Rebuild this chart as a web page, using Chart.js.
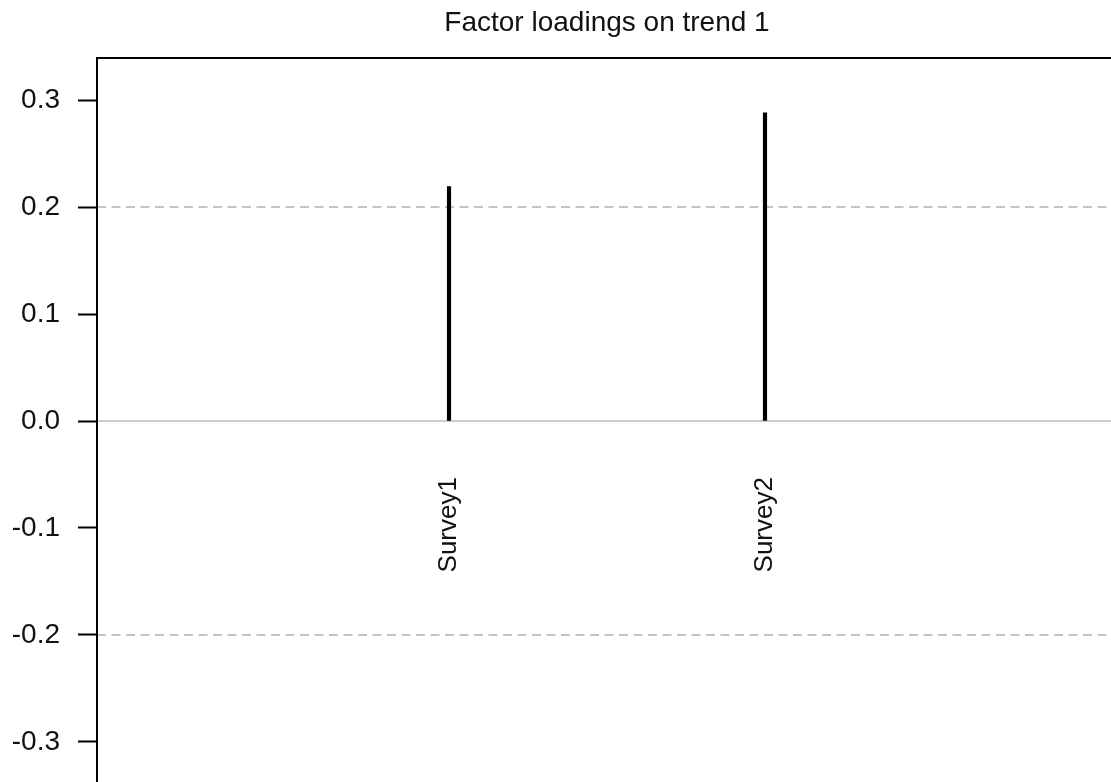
<!DOCTYPE html>
<html>
<head>
<meta charset="utf-8">
<title>Factor loadings on trend 1</title>
<script src="https://cdn.jsdelivr.net/npm/chart.js"></script>
<style>
  html, body { margin: 0; padding: 0; background: #fff; overflow: hidden; }
  .container_grafico { width: 1111px; height: 782px; overflow: hidden; position: relative; }
  #graficoCargas { position: absolute; left: 0; top: 0; }
</style>
</head>
<body>
<div class="container_grafico">
  <canvas id="graficoCargas" width="1120" height="786"></canvas>
</div>
<script>
const surveys = ['Survey1', 'Survey2'];
const loadings = [0.219, 0.288];
const yTicks = [-0.3, -0.2, -0.1, 0.0, 0.1, 0.2, 0.3];
const dashedLevels = [-0.2, 0.2];
const zeroLevel = 0;

const xMin = -0.114, xMax = 3.114;
const yMin = -0.3393, yMax = 0.3393;
const fonte = "'Liberation Sans', Arial, sans-serif";

// each survey sits at x = 1, 2, ...
const barPoints = loadings.map((v, i) => ({ x: i + 1, y: v }));

function linhaHorizontal(level, dash, color, width) {
    return {
        type: 'line',
        data: [{ x: xMin, y: level }, { x: xMax, y: level }],
        borderColor: color,
        borderWidth: width,
        borderDash: dash,
        pointRadius: 0,
        order: 1
    };
}

// survey names written vertically under the zero line
const rotulosSurvey = {
    id: 'rotulosSurvey',
    afterDatasetsDraw(chart) {
        const ctx = chart.ctx;
        const x = chart.scales.x, y = chart.scales.y;
        ctx.save();
        ctx.font = '26px ' + fonte;
        ctx.fillStyle = '#111';
        ctx.textAlign = 'center';
        ctx.textBaseline = 'middle';
        surveys.forEach((nome, i) => {
            ctx.save();
            ctx.translate(x.getPixelForValue(i + 1), y.getPixelForValue(-0.097));
            ctx.rotate(-Math.PI / 2);
            ctx.fillText(nome, 0, 0);
            ctx.restore();
        });
        ctx.restore();
    }
};

// box around the plotting region
const moldura = {
    id: 'moldura',
    afterDraw(chart) {
        const a = chart.chartArea;
        const ctx = chart.ctx;
        ctx.save();
        ctx.strokeStyle = '#000';
        ctx.lineWidth = 2;
        ctx.strokeRect(a.left, a.top, a.right - a.left, a.bottom - a.top);
        ctx.restore();
    }
};

const ctx1 = document.getElementById('graficoCargas');

var graficoCargas = new Chart(ctx1, {
    type: 'bar',
    data: {
        datasets: [
            {
                data: barPoints,
                backgroundColor: '#000',
                barThickness: 3.5,
                order: 0
            },
            linhaHorizontal(zeroLevel, [], '#bdbdbd', 1.5),
            ...dashedLevels.map(v => linhaHorizontal(v, [9, 5.5], '#c4c4c4', 2))
        ]
    },
    options: {
        responsive: false,
        animation: false,
        layout: { padding: { left: 0, right: 3, top: 0, bottom: 2 } },
        plugins: {
            legend: { display: false },
            tooltip: { enabled: false },
            title: {
                display: true,
                text: 'Factor loadings on trend 1',
                fullSize: false,
                color: '#111',
                font: { family: fonte, size: 28, weight: 'normal' },
                padding: { top: 6.4, bottom: 18 }
            }
        },
        scales: {
            x: { type: 'linear', min: xMin, max: xMax, offset: false, display: false },
            y: {
                min: yMin,
                max: yMax,
                afterBuildTicks: s => { s.ticks = yTicks.map(v => ({ value: v })); },
                afterFit: s => {
                    s.width = 97;
                    // labels never reach the ends, no extra room needed
                    s.paddingTop = 0;
                    s.paddingBottom = 0;
                },
                ticks: {
                    color: '#111',
                    font: { family: fonte, size: 28 },
                    padding: 18,
                    callback: v => v.toFixed(1)
                },
                grid: {
                    drawOnChartArea: false,
                    drawTicks: true,
                    tickLength: 19,
                    tickColor: '#000',
                    tickWidth: 2
                },
                border: { display: false }
            }
        }
    },
    plugins: [rotulosSurvey, moldura]
});
</script>
</body>
</html>
